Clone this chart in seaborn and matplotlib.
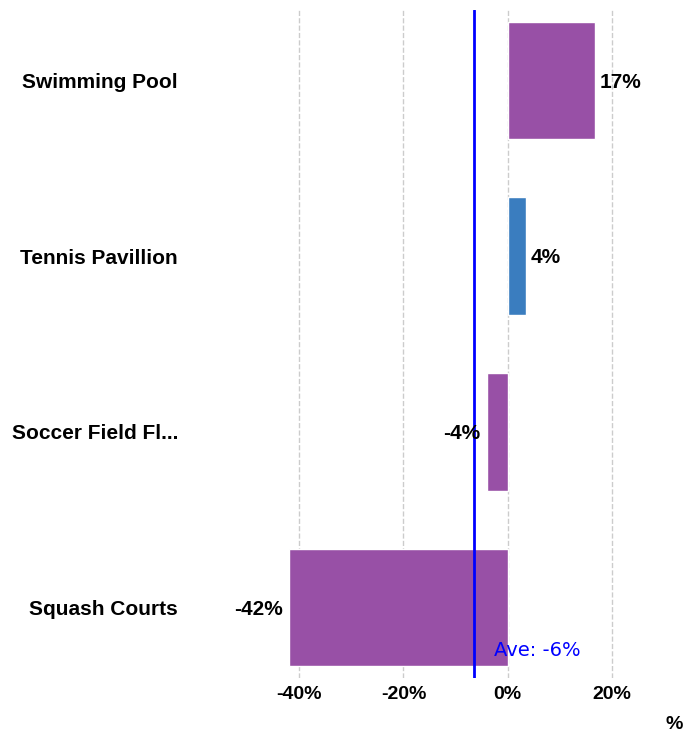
import matplotlib
matplotlib.use("Agg")
import matplotlib.pyplot as plt
import seaborn as sns
import pandas as pd

facilities = ["Swimming Pool", "Tennis Pavillion", "Soccer Field Fl...", "Squash Courts"]
change_pct = [16.7, 3.5, -4.0, -41.9]
bar_colors = ["#9850a6", "#3a7dbf", "#9850a6", "#9850a6"]
x_ticks = [-40, -20, 0, 20]

df = pd.DataFrame({"facility": facilities, "change": change_pct})
ave = df["change"].mean()

sns.set_style("white")
plt.rcParams['font.family'] = ['Liberation Sans', 'DejaVu Sans']
plt.rcParams['text.color'] = 'black'
plt.rcParams['xtick.labelcolor'] = 'black'
plt.rcParams['ytick.labelcolor'] = 'black'

fig = plt.figure(figsize=(6.99, 7.32), dpi=100)
ax = fig.add_axes([0.35, 0.074, 0.637, 0.912])

sns.barplot(data=df, x="change", y="facility", hue="facility", palette=bar_colors,
            legend=False, width=0.67, saturation=1, ax=ax, orient="h")

ax.set_xlim(-50.5, 35)
ax.set_ylim(3.4, -0.4)
ax.set_xticks(x_ticks)
ax.set_xticklabels([f"{t}%" for t in x_ticks], fontsize=14, fontweight="bold", color="black")
ax.tick_params(axis="x", length=3, color="#f0a050", pad=3)
ax.tick_params(axis="y", length=0, pad=48)
for lab in ax.get_yticklabels():
    lab.set_fontsize(15)
    lab.set_fontweight("bold")
    lab.set_color("black")
ax.grid(axis="x", color="#cccccc", linestyle="--", linewidth=1)
ax.set_axisbelow(True)
for s in ax.spines.values():
    s.set_visible(False)
ax.set_ylabel("")
ax.set_xlabel("%", fontsize=14, fontweight="bold", color="black")
ax.xaxis.set_label_coords(0.965, -0.057)

for i, v in enumerate(change_pct):
    if v >= 0:
        ax.text(v + 1, i + 0.01, f"{round(v)}%", va="center", ha="left", fontsize=15,
                fontweight="bold", color="black")
    else:
        ax.text(v - 1.3, i + 0.01, f"{round(v)}%", va="center", ha="right", fontsize=15,
                fontweight="bold", color="black")

ax.axvline(ave, color="#0000ff", linewidth=2)
ax.text(ave + 3.9, 3.245, f"Ave: {round(ave)}%", color="#0000ff", fontsize=14,
        family="DejaVu Sans", va="center", ha="left")

fig.savefig("out.png", dpi=100)
